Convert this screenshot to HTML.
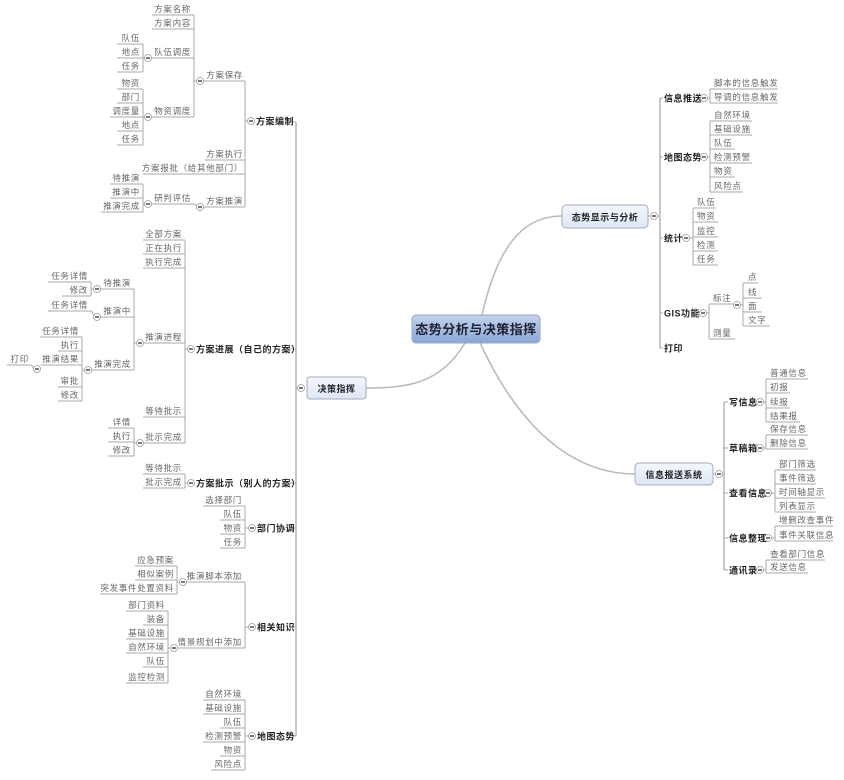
<!DOCTYPE html>
<html><head><meta charset="utf-8"><style>
html,body{margin:0;padding:0;background:#fff}
svg{display:block}
text{font-family:"Liberation Sans","Noto Sans CJK SC",sans-serif}
.l{font-size:8.5px;fill:#666;letter-spacing:.7px}
.le{font-size:8.5px;fill:#666;letter-spacing:.7px;text-anchor:end}
.b{font-size:9px;fill:#222;font-weight:bold;letter-spacing:.5px}
.ln{stroke:#aaa;stroke-width:1;fill:none}
.tr{stroke:#bbb;stroke-width:1.6;fill:none}
</style></head><body>
<svg width="844" height="780" viewBox="0 0 844 780" xmlns="http://www.w3.org/2000/svg">
<defs>
<g id="c"><circle r="3.5" fill="#fff" stroke="#999" stroke-width="0.8"/><line x1="-2" x2="2" y1="0" y2="0" stroke="#222" stroke-width="1.2"/></g>
<linearGradient id="gc" x1="0" y1="0" x2="0" y2="1"><stop offset="0" stop-color="#c3d4ee"/><stop offset="1" stop-color="#87a7d6"/></linearGradient>
<linearGradient id="gs" x1="0" y1="0" x2="0" y2="1"><stop offset="0" stop-color="#f3f7fe"/><stop offset="1" stop-color="#dde7f7"/></linearGradient>
</defs>

<path class="tr" d="M465,343 C440,385 405,388 366,388"/>
<path class="tr" d="M482,315 C500,235 530,216 562,216"/>
<path class="tr" d="M480,343 C530,450 590,474 635,474"/>

<rect x="412" y="315" width="128" height="28" rx="4" fill="url(#gc)" stroke="#9ab" stroke-width="1"/>
<text x="476" y="334" text-anchor="middle" style="font-size:13px;font-weight:bold;fill:#223;letter-spacing:.5px">态势分析与决策指挥</text>

<path class="tr" d="M296,122 V736"/>
<path class="ln" d="M296,388 H297.5"/>
<use href="#c" x="301" y="388"/>
<rect x="307" y="377" width="59" height="22" rx="3" fill="url(#gs)" stroke="#aab" stroke-width="1"/>
<text x="336.5" y="392" text-anchor="middle" class="b">决策指挥</text>

<path class="ln" d="M292,122 H296"/>
<use href="#c" x="251" y="121"/>
<text x="256" y="124.5" class="b">方案编制</text>
<path class="ln" d="M245,81 V207 M245,121 H247.5"/>
<path class="ln" d="M203.5,81 H245 M205,160 H245 M143,174 H245 M203.5,207 H245"/>
<use href="#c" x="200" y="81"/><text x="243" y="78" class="le">方案保存</text>
<text x="243" y="157" class="le">方案执行</text>
<text x="243" y="171" class="le">方案报批（给其他部门）</text>
<use href="#c" x="200" y="207"/><text x="243" y="204" class="le">方案推演</text>

<path class="ln" d="M194,15 V117 M194,81 H196.5"/>
<path class="ln" d="M152,15 H194 M152,29 H194 M151.5,58 H194 M151.5,117 H194"/>
<text x="191" y="12" class="le">方案名称</text>
<text x="191" y="26" class="le">方案内容</text>
<text x="191" y="55" class="le">队伍调度</text><use href="#c" x="148" y="58"/>
<text x="191" y="114" class="le">物资调度</text><use href="#c" x="148" y="117"/>
<path class="ln" d="M143,44 V72 M143,58 H144.5 M117,44 H143 M117,58 H143 M117,72 H143"/>
<text x="140" y="41" class="le">队伍</text><text x="140" y="55" class="le">地点</text><text x="140" y="69" class="le">任务</text>
<path class="ln" d="M143,89 V145 M143,117 H144.5 M117,89 H143 M117,103 H143 M110,117 H143 M117,131 H143 M117,145 H143"/>
<text x="140" y="86" class="le">物资</text><text x="140" y="100" class="le">部门</text><text x="140" y="114" class="le">调度量</text><text x="140" y="128" class="le">地点</text><text x="140" y="142" class="le">任务</text>
<path class="ln" d="M151.5,204 H194 Q196,204 196.5,207"/>
<text x="191" y="201" class="le">研判评估</text><use href="#c" x="148" y="204"/>
<path class="ln" d="M143,184 V212 M143,204 H144.5 M110,184 H143 M110,198 H143 M101,212 H143"/>
<text x="140" y="181" class="le">待推演</text><text x="140" y="195" class="le">推演中</text><text x="140" y="209" class="le">推演完成</text>

<path class="ln" d="M288,349 H296"/>
<use href="#c" x="191" y="349"/>
<text x="196" y="352.5" class="b">方案进展（自己的方案）</text>
<path class="ln" d="M185,240 V443 M185,349 H187.5"/>
<path class="ln" d="M143,240 H185 M143,254 H185 M143,268 H185 M143.5,343 H185 M143,417 H185 M143.5,443 H185"/>
<text x="182" y="237" class="le">全部方案</text><text x="182" y="251" class="le">正在执行</text><text x="182" y="265" class="le">执行完成</text>
<text x="182" y="340" class="le">推演进程</text><use href="#c" x="140" y="343"/>
<text x="182" y="414" class="le">等待批示</text>
<text x="182" y="440" class="le">批示完成</text><use href="#c" x="140" y="443"/>
<path class="ln" d="M134,289 V370 M134,343 H136.5 M100.5,289 H134 M100.5,317 H134 M91.5,370 H134"/>
<text x="131" y="286" class="le">待推演</text><use href="#c" x="97" y="289"/>
<text x="131" y="314" class="le">推演中</text><use href="#c" x="97" y="317"/>
<text x="131" y="367" class="le">推演完成</text><use href="#c" x="88" y="370"/>
<path class="ln" d="M91,282 V296 M91,289 H93.5 M48,282 H91 M62,296 H91"/>
<text x="88" y="279" class="le">任务详情</text><text x="88" y="293" class="le">修改</text>
<path class="ln" d="M48,311 H91 Q93,311 93.5,317"/>
<text x="88" y="308" class="le">任务详情</text>
<path class="ln" d="M82,337 V401 M82,370 H84.5 M40,337 H82 M58,351 H82 M40.5,365 H82 M58,387 H82 M58,401 H82"/>
<text x="79" y="334" class="le">任务详情</text><text x="79" y="348" class="le">执行</text><text x="79" y="362" class="le">推演结果</text><text x="79" y="384" class="le">审批</text><text x="79" y="398" class="le">修改</text>
<use href="#c" x="37" y="369"/>
<path class="ln" d="M7,365 H30 Q33,365 33.5,369"/>
<text x="29" y="362" class="le">打印</text>
<path class="ln" d="M134,428 V456 M134,443 H136.5 M108,428 H134 M108,442 H134 M108,456 H134"/>
<text x="131" y="425" class="le">详情</text><text x="131" y="439" class="le">执行</text><text x="131" y="453" class="le">修改</text>

<path class="ln" d="M288,483 H296"/>
<use href="#c" x="191" y="483"/>
<text x="196" y="486.5" class="b">方案批示（别人的方案）</text>
<path class="ln" d="M185,474 V488 M185,483 H187.5 M143,474 H185 M143,488 H185"/>
<text x="182" y="471" class="le">等待批示</text><text x="182" y="485" class="le">批示完成</text>

<path class="ln" d="M292,528 H296"/>
<use href="#c" x="252" y="528"/>
<text x="257" y="531.5" class="b">部门协调</text>
<path class="ln" d="M245,506 V548 M245,528 H248.5 M203,506 H245 M220,520 H245 M220,534 H245 M220,548 H245"/>
<text x="242" y="503" class="le">选择部门</text><text x="242" y="517" class="le">队伍</text><text x="242" y="531" class="le">物资</text><text x="242" y="545" class="le">任务</text>

<path class="ln" d="M292,627 H296"/>
<use href="#c" x="252" y="627"/>
<text x="257" y="630.5" class="b">相关知识</text>
<path class="ln" d="M245,582 V648 M245,627 H248.5 M186.5,582 H245 M177.5,648 H245"/>
<text x="242" y="579" class="le">推演脚本添加</text><use href="#c" x="183" y="582"/>
<text x="242" y="645" class="le">情景规划中添加</text><use href="#c" x="174" y="648"/>
<path class="ln" d="M177,566 V594 M177,582 H179.5 M135,566 H177 M135,580 H177 M100,594 H177"/>
<text x="174" y="563" class="le">应急预案</text><text x="174" y="577" class="le">相似案例</text><text x="174" y="591" class="le">突发事件处置资料</text>
<path class="ln" d="M168,611 V683 M168,648 H170.5 M126,611 H168 M143,625 H168 M126,639 H168 M126,653 H168 M143,667 H168 M126,683 H168"/>
<text x="165" y="608" class="le">部门资料</text><text x="165" y="622" class="le">装备</text><text x="165" y="636" class="le">基础设施</text><text x="165" y="650" class="le">自然环境</text><text x="165" y="664" class="le">队伍</text><text x="165" y="680" class="le">监控检测</text>

<path class="ln" d="M292,736 H296"/>
<use href="#c" x="252" y="736"/>
<text x="257" y="739.5" class="b">地图态势</text>
<path class="ln" d="M245,700 V770 M245,736 H248.5 M203,700 H245 M203,714 H245 M220,728 H245 M203,742 H245 M220,756 H245 M211,770 H245"/>
<text x="242" y="697" class="le">自然环境</text><text x="242" y="711" class="le">基础设施</text><text x="242" y="725" class="le">队伍</text><text x="242" y="739" class="le">检测预警</text><text x="242" y="753" class="le">物资</text><text x="242" y="767" class="le">风险点</text>

<rect x="562" y="205" width="86" height="23" rx="4" fill="url(#gs)" stroke="#aab" stroke-width="1"/>
<text x="605" y="220.5" text-anchor="middle" class="b">态势显示与分析</text>
<path class="ln" d="M648,216 H650.5"/><use href="#c" x="654" y="216"/>
<path class="ln" d="M657.5,216 H660"/>
<path class="tr" d="M660,98 V348"/>
<path class="ln" d="M660,98 H663 M660,157 H663 M660,238 H663 M660,313 H663 M660,348 H663"/>
<text x="664" y="101.5" class="b">信息推送</text><use href="#c" x="704" y="98"/>
<text x="664" y="160.5" class="b">地图态势</text><use href="#c" x="704" y="157"/>
<text x="664" y="241.5" class="b">统计</text><use href="#c" x="686" y="238"/>
<text x="664" y="316.5" class="b">GIS功能</text><use href="#c" x="703" y="313"/>
<text x="664" y="351.5" class="b">打印</text>
<path class="ln" d="M707.5,98 H710 M710,89 V103 M710,89 H778 M710,103 H778"/>
<text x="714" y="86" class="l">脚本的信息触发</text><text x="714" y="100" class="l">导调的信息触发</text>
<path class="ln" d="M707.5,157 H710 M710,121 V192 M710,121 H752 M710,135 H752 M710,149 H735 M710,163 H752 M710,177 H735 M710,192 H743"/>
<text x="714" y="118" class="l">自然环境</text><text x="714" y="132" class="l">基础设施</text><text x="714" y="146" class="l">队伍</text><text x="714" y="160" class="l">检测预警</text><text x="714" y="174" class="l">物资</text><text x="714" y="189" class="l">风险点</text>
<path class="ln" d="M689.5,238 H693 M693,208 V265 M693,208 H716 M693,222 H718 M693,237 H718 M693,251 H718 M693,265 H718"/>
<text x="697" y="205" class="l">队伍</text><text x="697" y="219" class="l">物资</text><text x="697" y="234" class="l">监控</text><text x="697" y="248" class="l">检测</text><text x="697" y="262" class="l">任务</text>
<path class="ln" d="M706.5,313 H709 M709,304 V339 M709,304 H733.5 M709,339 H735"/>
<text x="713" y="301" class="l">标注</text><text x="713" y="336" class="l">测量</text>
<use href="#c" x="737" y="305"/>
<path class="ln" d="M740.5,305 H743 M743,283 V326 M743,283 H758 M743,298 H762 M743,312 H762 M743,326 H770"/>
<text x="748" y="280" class="l">点</text><text x="748" y="295" class="l">线</text><text x="748" y="309" class="l">面</text><text x="748" y="323" class="l">文字</text>

<rect x="635" y="463" width="78" height="22" rx="4" fill="url(#gs)" stroke="#aab" stroke-width="1"/>
<text x="674" y="478" text-anchor="middle" class="b">信息报送系统</text>
<path class="ln" d="M713,474 H715.5"/><use href="#c" x="719" y="474"/>
<path class="ln" d="M722.5,474 H724"/>
<path class="tr" d="M724,402 V570"/>
<path class="ln" d="M724,402 H728 M724,448 H728 M724,493 H728 M724,538 H728 M724,570 H728"/>
<text x="729" y="405.5" class="b">写信息</text><use href="#c" x="760" y="402"/>
<text x="729" y="451.5" class="b">草稿箱</text><use href="#c" x="760" y="448"/>
<text x="729" y="496.5" class="b">查看信息</text><use href="#c" x="768" y="493"/>
<text x="729" y="541.5" class="b">信息整理</text><use href="#c" x="768" y="538"/>
<text x="729" y="573.5" class="b">通讯录</text><use href="#c" x="760" y="570"/>
<path class="ln" d="M763.5,402 H766 M766,379 V422 M766,379 H808 M766,393 H790 M766,408 H790 M766,422 H800"/>
<text x="770" y="376" class="l">普通信息</text><text x="770" y="390" class="l">初报</text><text x="770" y="405" class="l">续报</text><text x="770" y="419" class="l">结果报</text>
<path class="ln" d="M763.5,448 H766 M766,435 V449 M766,435 H808 M766,449 H808"/>
<text x="770" y="432" class="l">保存信息</text><text x="770" y="446" class="l">删除信息</text>
<path class="ln" d="M771.5,493 H775 M775,470 V512 M775,470 H816 M775,484 H816 M775,498 H825 M775,512 H816"/>
<text x="779" y="467" class="l">部门筛选</text><text x="779" y="481" class="l">事件筛选</text><text x="779" y="495" class="l">时间轴显示</text><text x="779" y="509" class="l">列表显示</text>
<path class="ln" d="M771.5,538 H775 M775,526 V541 M775,526 H833 M775,541 H833"/>
<text x="779" y="523" class="l">增删改查事件</text><text x="779" y="538" class="l">事件关联信息</text>
<path class="ln" d="M763.5,570 H766 M766,560 V573 M766,560 H825 M766,573 H808"/>
<text x="770" y="557" class="l">查看部门信息</text><text x="770" y="570" class="l">发送信息</text>
</svg>
</body></html>
